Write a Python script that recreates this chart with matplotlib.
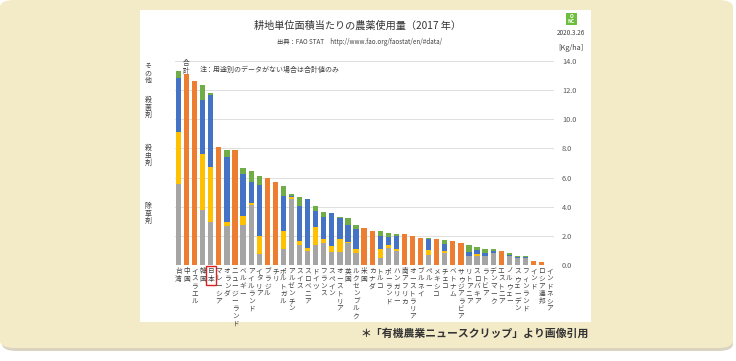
import numpy as np
import matplotlib.pyplot as plt
from matplotlib.patches import FancyBboxPatch, Rectangle

plt.rcParams['font.family'] = ['Noto Sans CJK JP', 'DejaVu Sans']

# 国名と用途別の使用量 (kg/ha)
countries = ['台湾', '中国', 'イスラエル', '韓国', '日本', 'マレーシア', 'オランダ',
             'ニュージーランド', 'ベルギー', 'アイルランド', 'イタリア', 'ブラジル', 'チリ',
             'ポルトガル', 'アルゼンチン', 'スイス', 'スロベニア', 'ドイツ', 'フランス',
             'スペイン', 'オーストリア', '英国', 'ルクセンブルク', '米国', 'カナダ', 'トルコ',
             'ポーランド', 'ハンガリー', '南アフリカ', 'オーストラリア', 'ブルネイ', 'ペルー',
             'メキシコ', 'チェコ', 'ベトナム', 'サウジアラビア', 'リトアニア', 'スロバキア',
             'ラトビア', 'デンマーク', 'エストニア', 'ノルウェー', 'スウェーデン',
             'フィンランド', 'インド', 'ロシア連邦', 'インドネシア']

herbicide = [5.53, 0, 0, 3.78, 2.96, 0, 2.68, 0, 2.73, 4.10, 0.77, 0, 0, 1.11, 4.55, 1.39,
             0.98, 1.39, 1.52, 0.93, 0.91, 1.52, 0.84, 0, 0, 0.52, 1.20, 0.96, 0, 0, 0,
             0.73, 0, 0.84, 0, 0, 0.61, 0.66, 0.61, 0.82, 0, 0.64, 0.48, 0.48, 0, 0, 0]
insecticide = [3.57, 0, 0, 3.87, 3.80, 0, 0.30, 0, 0.64, 0.16, 1.21, 0, 0, 1.21, 0.14, 0.27,
               0.20, 1.20, 0.26, 0.39, 0.89, 0.09, 0.27, 0, 0, 0.59, 0.17, 0.15, 0, 0, 0,
               0.35, 0, 0.12, 0, 0, 0.02, 0.09, 0.04, 0.0, 0, 0.0, 0.0, 0.0, 0, 0, 0]
fungicide = [3.69, 0, 0, 3.64, 4.89, 0, 4.44, 0, 2.91, 1.43, 3.53, 0, 0, 2.43, 0.04, 2.41,
             3.35, 1.12, 1.52, 2.25, 1.45, 1.16, 1.37, 0, 0, 0.91, 0.56, 0.91, 0, 0, 0,
             0.74, 0, 0.52, 0, 0, 0.30, 0.32, 0.21, 0.16, 0, 0.06, 0.09, 0.07, 0, 0, 0]
other = [0.53, 0, 0, 1.07, 0.12, 0, 0.48, 0, 0.39, 0.77, 0.61, 0, 0, 0.67, 0.16, 0.62,
         0.03, 0.32, 0.34, 0.0, 0.07, 0.46, 0.25, 0, 0, 0.30, 0.26, 0.12, 0, 0, 0,
         0.02, 0, 0.25, 0, 0, 0.46, 0.18, 0.25, 0.11, 0, 0.14, 0.04, 0.06, 0, 0, 0]
# 用途別データがない国は合計値のみ
total_only = [0, 13.07, 12.63, 0, 0, 8.10, 0, 7.88, 0, 0, 0, 5.96, 5.69, 0, 0, 0,
              0, 0, 0, 0, 0, 0, 0, 2.53, 2.36, 0, 0, 0, 2.14, 2.02, 1.87,
              0, 1.78, 0, 1.66, 1.50, 0, 0, 0, 0, 0.98, 0, 0, 0, 0.31, 0.23, 0.05]

W, H = 736, 361
fig = plt.figure(figsize=(W / 100, H / 100), dpi=100)
fig.patch.set_facecolor('white')

# 背景（ベージュの角丸）と白いパネル
fig.patches.append(FancyBboxPatch((2 / W, 1 - 351 / H), 731 / W, 349 / H,
                                  boxstyle='round,pad=0,rounding_size=0.02',
                                  transform=fig.transFigure, facecolor='#d9d3c0',
                                  edgecolor='none', zorder=-3))
fig.patches.append(FancyBboxPatch((0, 1 - 348 / H), 733 / W, 348 / H,
                                  boxstyle='round,pad=0,rounding_size=0.02',
                                  transform=fig.transFigure, facecolor='#f3eac8',
                                  edgecolor='none', zorder=-2))
fig.patches.append(Rectangle((140 / W, 1 - 322 / H), 451 / W, 312 / H,
                             transform=fig.transFigure, facecolor='white',
                             edgecolor='none', zorder=-1))

ax = fig.add_axes([174.5 / W, 1 - 265.3 / H, 379.2 / W, 204.6 / H])
ax.set_zorder(2)
ax.set_facecolor('none')

x = np.arange(len(countries))
bw = 0.65
h = np.array(herbicide)
i_ = np.array(insecticide)
f = np.array(fungicide)
o = np.array(other)

ax.bar(x, h, bw, color='#a5a5a5', zorder=3)
ax.bar(x, i_, bw, bottom=h, color='#ffc000', zorder=3)
ax.bar(x, f, bw, bottom=h + i_, color='#4472c4', zorder=3)
ax.bar(x, o, bw, bottom=h + i_ + f, color='#70ad47', zorder=3)
ax.bar(x, total_only, bw, color='#ed7d31', zorder=3)

ax.set_xlim(-0.5, len(countries) - 0.5)
ax.set_ylim(0, 14)
ax.set_yticks(np.arange(0, 14.1, 2))
ax.set_yticklabels(['%.1f' % v for v in np.arange(0, 14.1, 2)])
ax.yaxis.tick_right()
ax.tick_params(axis='y', length=0, pad=6, labelsize=5.3, labelcolor='#595959')
ax.tick_params(axis='x', length=0, pad=1.5)
ax.grid(axis='y', color='#d9d9d9', linewidth=0.6, zorder=0)
for s in ax.spines.values():
    s.set_visible(False)

ax.set_xticks(x)
ax.set_xticklabels(['\n'.join(c) for c in countries], fontsize=4.8,
                   linespacing=0.92, va='top', color='#404040')
for lab in ax.get_xticklabels():
    if lab.get_text() == '日\n本':
        lab.set_bbox(dict(facecolor='none', edgecolor='#e02020', linewidth=1.0, pad=1.2))

# 用途ラベル（縦書き）
def vtext(px, py, s, size=5.0):
    fig.text(px / W, 1 - py / H, '\n'.join(s), fontsize=size, color='#404040',
             ha='center', va='top', linespacing=0.95)

vtext(148, 62, 'その他')
vtext(148, 96, '殺菌剤')
vtext(148, 144, '殺虫剤')
vtext(148, 202, '除草剤')
vtext(186.5, 59, '合計', size=4.8)

fig.text(200 / W, 1 - 70 / H, '注：用途別のデータがない場合は合計値のみ',
         fontsize=5, color='#404040', va='center')

fig.text(357.5 / W, 1 - 26 / H, '耕地単位面積当たりの農薬使用量（2017 年）',
         fontsize=7.3, color='#333333', ha='center', va='center')
fig.text(359.5 / W, 1 - 42 / H, '出典：FAO STAT　http://www.fao.org/faostat/en/#data/',
         fontsize=4.5, color='#404040', ha='center', va='center')

# ロゴと日付
fig.patches.append(Rectangle((566 / W, 1 - 25 / H), 11 / W, 12 / H,
                             transform=fig.transFigure, facecolor='#6cbf3c',
                             edgecolor='none', zorder=2))
fig.text(571.5 / W, 1 - 19 / H, 'O\nNC', fontsize=3.6, color='white', weight='bold',
         ha='center', va='center', linespacing=0.9, zorder=3)
fig.text(571 / W, 1 - 33 / H, '2020.3.26', fontsize=4.6, color='#404040',
         ha='center', va='center')
fig.text(571 / W, 1 - 48 / H, '[Kg/ha]', fontsize=5.3, color='#404040',
         ha='center', va='center')

fig.text(589 / W, 1 - 333 / H, '＊「有機農業ニュースクリップ」より画像引用',
         fontsize=7.8, color='#333333', ha='right', va='center', weight='bold')

fig.savefig('out.png', dpi=100)
